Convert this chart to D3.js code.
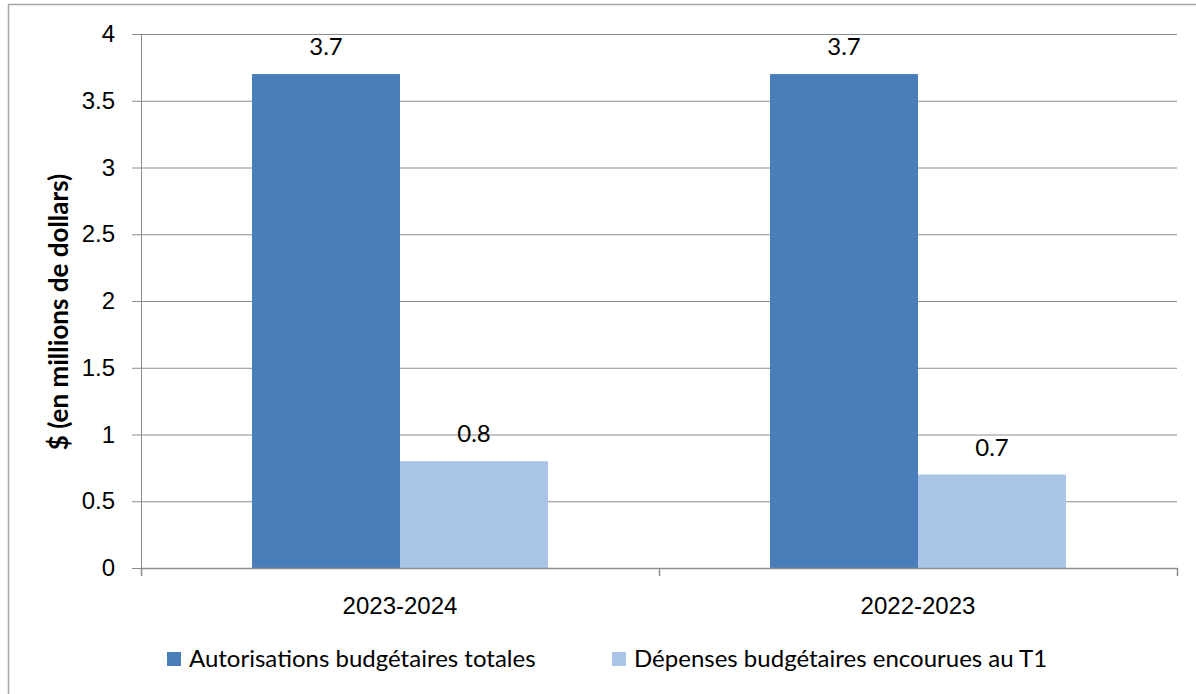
<!DOCTYPE html>
<html>
<head>
<meta charset="utf-8">
<script src="https://cdn.jsdelivr.net/npm/d3@7"></script>
<style>
  body { margin: 0; background: #fff; }
  svg { display: block; font-family: Lato, "Noto Sans", sans-serif; }
</style>
</head>
<body>
<svg id="chart" width="1196" height="694"></svg>
<script>
// Data
const categories = ["2023-2024", "2022-2023"];
const seriesNames = ["Autorisations budgétaires totales", "Dépenses budgétaires encourues au T1"];
const autorisations = [3.7, 3.7];
const depenses = [0.8, 0.7];
const yTicks = [0, 0.5, 1, 1.5, 2, 2.5, 3, 3.5, 4];
const colors = ["#4a7ebb", "#a9c4e6"];

const svg = d3.select("#chart");
const margin = {left: 141, top: 34, right: 20, bottom: 126};
const plotW = 1177 - margin.left;
const plotH = 568 - margin.top;

// outer frame (cropped at right/bottom)
svg.append("rect")
    .attr("x", 8.5).attr("y", 4.5)
    .attr("width", 1300).attr("height", 800)
    .attr("fill", "none").attr("stroke", "#a6a6a6").attr("stroke-width", 1.5);

const g = svg.append("g").attr("transform", `translate(${margin.left},${margin.top})`);

// Scales
const x = d3.scaleBand().domain(categories).range([0, plotW]).paddingInner(0).paddingOuter(0);
const xInner = d3.scaleBand().domain([0, 1]).range([0, x.bandwidth()]).paddingInner(0).paddingOuter(0.75);
const y = d3.scaleLinear().domain([0, 4]).range([plotH, 0]);

// Gridlines
g.append("g")
    .selectAll("line")
    .data(yTicks.filter(d => d > 0))
    .join("line")
    .attr("x1", 0).attr("x2", plotW)
    .attr("y1", d => y(d) + 0.5).attr("y2", d => y(d) + 0.5)
    .attr("stroke", "#8c8c8c").attr("stroke-width", 1);

// Bars
const data = categories.map((c, i) => ({cat: c, vals: [autorisations[i], depenses[i]]}));
const groups = g.selectAll(".grp").data(data).join("g")
    .attr("class", "grp")
    .attr("transform", d => `translate(${x(d.cat)},0)`);

groups.selectAll("rect")
    .data(d => d.vals.map((v, k) => ({k, v})))
    .join("rect")
    .attr("x", d => xInner(d.k))
    .attr("width", xInner.bandwidth())
    .attr("y", d => y(d.v))
    .attr("height", d => plotH - y(d.v))
    .attr("fill", d => colors[d.k]);

groups.selectAll("text.val")
    .data(d => d.vals.map((v, k) => ({k, v})))
    .join("text")
    .attr("class", "val")
    .attr("x", d => xInner(d.k) + xInner.bandwidth() / 2)
    .attr("y", d => y(d.v) - 19)
    .attr("text-anchor", "middle")
    .style("font-size", "24px")
    .attr("fill", "#000")
    .text(d => d.v.toFixed(1));

// Y axis
const yAxis = g.append("g")
    .call(d3.axisLeft(y).tickValues(yTicks).tickSize(9).tickPadding(17).tickFormat(d3.format("")));
yAxis.select(".domain").attr("stroke", "#8c8c8c").attr("d", `M0.5,0V${plotH}`);
yAxis.selectAll(".tick line").attr("stroke", "#8c8c8c");
yAxis.selectAll(".tick text").style("font-size", "24px").attr("fill", "#000");

// X axis
const xAxis = g.append("g")
    .attr("transform", `translate(0,${plotH})`)
    .call(d3.axisBottom(x).tickSize(0).tickPadding(29));
xAxis.select(".domain").attr("stroke", "#8c8c8c").attr("stroke-width", 1.5);
xAxis.selectAll(".tick text").style("font-size", "24px").attr("fill", "#000");
xAxis.selectAll(".sep")
    .data([0, x.bandwidth(), plotW])
    .join("line")
    .attr("class", "sep")
    .attr("x1", d => d + 0.5).attr("x2", d => d + 0.5)
    .attr("y1", 0).attr("y2", 8)
    .attr("stroke", "#8c8c8c").attr("stroke-width", 1.5);

// Y label
svg.append("text")
    .attr("transform", "translate(58,312) rotate(-90)")
    .attr("text-anchor", "middle")
    .attr("dominant-baseline", "central")
    .style("font-size", "26px")
    .style("font-weight", "bold")
    .text("$ (en millions de dollars)");

// Legend
const legendX = [167, 612];
const legend = svg.append("g");
seriesNames.forEach((name, i) => {
    legend.append("rect")
        .attr("x", legendX[i]).attr("y", 652)
        .attr("width", 14).attr("height", 14)
        .attr("fill", colors[i]);
    legend.append("text")
        .attr("x", legendX[i] + 22).attr("y", 667)
        .style("font-size", "24px")
        .text(name);
});
</script>
</body>
</html>
